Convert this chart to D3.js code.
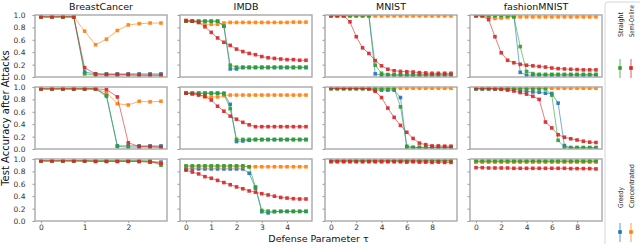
<!DOCTYPE html>
<html lang="en">
<head>
<meta charset="utf-8">
<title>Test accuracy after attacks</title>
<style>
  body { margin: 0; background: #fff; }
  text { font-family: "DejaVu Sans", sans-serif; }
  .tick line { stroke: #999; }
  .tick text { fill: #333; font-size: 7.5px; }
  .frame { fill: none; stroke: #a8a8a8; stroke-width: 1.4px; }
</style>
</head>
<body>
<svg id="chart" width="640" height="244"></svg>
<script src="https://cdn.jsdelivr.net/npm/d3@7"></script>
<script>
// ---- data ----
const datasets = ["BreastCancer", "IMDB", "MNIST", "fashionMNIST"];
const methods = ["Greedy", "Concentrated", "Straight", "Semi-Online"];
const methodColors = ["#1f77b4", "#ff7f0e", "#2ca02c", "#d62728"];

const xBreast = [0, 0.25, 0.5, 0.75, 1, 1.25, 1.5, 1.75, 2, 2.25, 2.5, 2.75];
const xImdb = [0, 0.25, 0.5, 0.75, 1, 1.25, 1.5, 1.75, 2, 2.25, 2.5, 2.75, 3, 3.25, 3.5, 3.75, 4, 4.25, 4.5, 4.75];
const xMnist = [0, 0.5, 1, 1.5, 2, 2.5, 3, 3.5, 4, 4.5, 5, 5.5, 6, 6.5, 7, 7.5, 8, 8.5, 9, 9.5];

const xTicksBreast = [0, 1, 2];
const xTicksImdb = [0, 1, 2, 3, 4];
const xTicksMnist = [0, 2, 4, 6, 8];
const yTicks = [0, 0.2, 0.4, 0.6, 0.8, 1.0];

// one list per row (top, middle, bottom)
const breastGreedy = [
  [0.97, 0.97, 0.97, 0.97, 0.08, 0.05, 0.05, 0.05, 0.05, 0.05, 0.05, 0.05],
  [0.97, 0.97, 0.97, 0.97, 0.97, 0.97, 0.87, 0.05, 0.05, 0.05, 0.05, 0.05],
  [0.97, 0.97, 0.97, 0.97, 0.97, 0.97, 0.97, 0.97, 0.97, 0.97, 0.96, 0.95]];
const breastConcentrated = [
  [0.97, 0.97, 0.97, 0.97, 0.74, 0.52, 0.61, 0.75, 0.84, 0.86, 0.87, 0.87],
  [0.97, 0.97, 0.97, 0.97, 0.97, 0.97, 0.91, 0.73, 0.71, 0.77, 0.76, 0.77],
  [0.97, 0.97, 0.97, 0.97, 0.97, 0.97, 0.97, 0.97, 0.97, 0.96, 0.95, 0.94]];
const breastStraight = [
  [0.97, 0.97, 0.97, 0.97, 0.05, 0.03, 0.03, 0.03, 0.03, 0.03, 0.03, 0.03],
  [0.97, 0.97, 0.97, 0.97, 0.97, 0.97, 0.85, 0.04, 0.03, 0.03, 0.03, 0.03],
  [0.97, 0.97, 0.97, 0.97, 0.97, 0.97, 0.97, 0.97, 0.97, 0.97, 0.97, 0.90]];
const breastSemi = [
  [0.97, 0.97, 0.97, 0.97, 0.15, 0.05, 0.04, 0.04, 0.04, 0.03, 0.03, 0.03],
  [0.97, 0.97, 0.97, 0.97, 0.97, 0.97, 0.96, 0.84, 0.10, 0.04, 0.04, 0.03],
  [0.97, 0.97, 0.97, 0.97, 0.97, 0.96, 0.96, 0.96, 0.96, 0.96, 0.95, 0.93]];

const imdbGreedy = [
  [0.90, 0.90, 0.90, 0.90, 0.90, 0.90, 0.82, 0.13, 0.13, 0.15, 0.15, 0.15, 0.15, 0.15, 0.15, 0.15, 0.15, 0.15, 0.15, 0.15],
  [0.90, 0.90, 0.90, 0.90, 0.90, 0.90, 0.90, 0.72, 0.12, 0.13, 0.14, 0.15, 0.15, 0.15, 0.15, 0.15, 0.15, 0.15, 0.15, 0.15],
  [0.84, 0.84, 0.84, 0.84, 0.84, 0.84, 0.84, 0.84, 0.84, 0.84, 0.77, 0.53, 0.15, 0.13, 0.15, 0.155, 0.155, 0.155, 0.155, 0.155]];
const imdbConcentrated = [
  [0.91, 0.90, 0.88, 0.85, 0.85, 0.85, 0.87, 0.88, 0.88, 0.88, 0.88, 0.88, 0.88, 0.88, 0.88, 0.88, 0.88, 0.885, 0.885, 0.885],
  [0.90, 0.89, 0.88, 0.84, 0.84, 0.84, 0.86, 0.87, 0.87, 0.87, 0.87, 0.87, 0.87, 0.87, 0.87, 0.87, 0.87, 0.87, 0.87, 0.87],
  [0.875, 0.875, 0.875, 0.875, 0.875, 0.875, 0.875, 0.875, 0.875, 0.875, 0.875, 0.875, 0.875, 0.875, 0.875, 0.875, 0.875, 0.875, 0.875, 0.875]];
const imdbStraight = [
  [0.90, 0.90, 0.90, 0.90, 0.90, 0.90, 0.82, 0.19, 0.16, 0.16, 0.16, 0.16, 0.16, 0.16, 0.16, 0.16, 0.16, 0.16, 0.16, 0.16],
  [0.90, 0.90, 0.90, 0.90, 0.90, 0.90, 0.89, 0.65, 0.155, 0.155, 0.155, 0.155, 0.155, 0.155, 0.155, 0.155, 0.155, 0.155, 0.155, 0.155],
  [0.89, 0.89, 0.89, 0.89, 0.89, 0.89, 0.89, 0.89, 0.89, 0.89, 0.875, 0.55, 0.17, 0.16, 0.155, 0.155, 0.155, 0.155, 0.155, 0.155]];
const imdbSemi = [
  [0.91, 0.90, 0.88, 0.81, 0.72, 0.63, 0.56, 0.51, 0.45, 0.41, 0.38, 0.36, 0.33, 0.31, 0.30, 0.29, 0.28, 0.28, 0.27, 0.27],
  [0.90, 0.89, 0.87, 0.85, 0.79, 0.69, 0.61, 0.53, 0.48, 0.43, 0.39, 0.36, 0.36, 0.36, 0.36, 0.36, 0.36, 0.36, 0.36, 0.36],
  [0.82, 0.79, 0.76, 0.715, 0.69, 0.655, 0.62, 0.585, 0.55, 0.52, 0.485, 0.465, 0.44, 0.42, 0.40, 0.38, 0.37, 0.36, 0.355, 0.355]];

const mnistGreedy = [
  [0.99, 0.99, 0.99, 0.99, 0.99, 0.99, 0.99, 0.05, 0.03, 0.03, 0.03, 0.03, 0.03, 0.03, 0.03, 0.03, 0.03, 0.03, 0.03, 0.03],
  [0.98, 0.98, 0.98, 0.98, 0.98, 0.98, 0.98, 0.95, 0.95, 0.95, 0.95, 0.83, 0.03, 0.025, 0.025, 0.025, 0.025, 0.025, 0.025, 0.025],
  [0.97, 0.97, 0.97, 0.97, 0.97, 0.97, 0.97, 0.97, 0.97, 0.97, 0.97, 0.97, 0.97, 0.97, 0.97, 0.97, 0.97, 0.97, 0.97, 0.97]];
const mnistConcentrated = [
  [0.985, 0.985, 0.985, 0.985, 0.985, 0.985, 0.985, 0.985, 0.985, 0.985, 0.985, 0.985, 0.985, 0.985, 0.985, 0.985, 0.985, 0.985, 0.985, 0.985],
  [0.98, 0.98, 0.98, 0.98, 0.98, 0.98, 0.98, 0.98, 0.98, 0.98, 0.98, 0.98, 0.98, 0.98, 0.98, 0.98, 0.98, 0.98, 0.98, 0.98],
  [0.97, 0.97, 0.97, 0.97, 0.97, 0.97, 0.97, 0.97, 0.97, 0.97, 0.97, 0.97, 0.97, 0.97, 0.97, 0.97, 0.97, 0.97, 0.97, 0.97]];
const mnistStraight = [
  [0.99, 0.99, 0.99, 0.99, 0.99, 0.99, 0.99, 0.19, 0.06, 0.04, 0.035, 0.035, 0.035, 0.035, 0.035, 0.035, 0.035, 0.035, 0.035, 0.035],
  [0.97, 0.97, 0.97, 0.97, 0.97, 0.97, 0.97, 0.97, 0.97, 0.97, 0.97, 0.68, 0.045, 0.025, 0.025, 0.025, 0.025, 0.025, 0.025, 0.025],
  [0.98, 0.98, 0.98, 0.98, 0.98, 0.98, 0.98, 0.98, 0.98, 0.98, 0.98, 0.98, 0.98, 0.98, 0.98, 0.98, 0.98, 0.98, 0.98, 0.98]];
const mnistSemi = [
  [0.99, 0.99, 0.99, 0.89, 0.65, 0.47, 0.38, 0.265, 0.18, 0.125, 0.10, 0.09, 0.085, 0.08, 0.07, 0.065, 0.06, 0.06, 0.06, 0.06],
  [0.98, 0.98, 0.98, 0.98, 0.98, 0.98, 0.97, 0.93, 0.83, 0.66, 0.51, 0.38, 0.27, 0.17, 0.095, 0.07, 0.05, 0.05, 0.045, 0.045],
  [0.955, 0.955, 0.955, 0.955, 0.955, 0.955, 0.955, 0.955, 0.955, 0.955, 0.955, 0.955, 0.95, 0.955, 0.95, 0.95, 0.945, 0.95, 0.945, 0.945]];

const fashionGreedy = [
  [0.99, 0.99, 0.99, 0.99, 0.99, 0.99, 0.99, 0.075, 0.03, 0.03, 0.03, 0.03, 0.03, 0.03, 0.03, 0.03, 0.03, 0.03, 0.03, 0.03],
  [0.97, 0.97, 0.97, 0.97, 0.97, 0.97, 0.97, 0.94, 0.93, 0.92, 0.915, 0.90, 0.895, 0.74, 0.055, 0.015, 0.015, 0.015, 0.015, 0.015],
  [0.96, 0.96, 0.96, 0.96, 0.96, 0.96, 0.96, 0.96, 0.96, 0.96, 0.96, 0.96, 0.96, 0.96, 0.96, 0.96, 0.96, 0.96, 0.96, 0.96]];
const fashionConcentrated = [
  [0.99, 0.98, 0.965, 0.945, 0.95, 0.96, 0.97, 0.97, 0.97, 0.97, 0.97, 0.97, 0.97, 0.97, 0.97, 0.97, 0.97, 0.97, 0.97, 0.97],
  [0.98, 0.98, 0.98, 0.98, 0.98, 0.98, 0.98, 0.98, 0.98, 0.98, 0.98, 0.98, 0.98, 0.98, 0.98, 0.98, 0.98, 0.98, 0.98, 0.98],
  [0.95, 0.95, 0.95, 0.95, 0.95, 0.95, 0.95, 0.95, 0.95, 0.95, 0.95, 0.95, 0.95, 0.95, 0.95, 0.95, 0.95, 0.95, 0.95, 0.95]];
const fashionStraight = [
  [0.99, 0.99, 0.99, 0.99, 0.99, 0.99, 0.97, 0.49, 0.09, 0.055, 0.043, 0.043, 0.043, 0.043, 0.043, 0.043, 0.043, 0.043, 0.043, 0.043],
  [0.97, 0.97, 0.97, 0.97, 0.97, 0.97, 0.97, 0.97, 0.97, 0.97, 0.97, 0.97, 0.87, 0.14, 0.03, 0.025, 0.025, 0.025, 0.025, 0.025],
  [0.97, 0.97, 0.97, 0.97, 0.97, 0.97, 0.97, 0.97, 0.97, 0.97, 0.97, 0.97, 0.97, 0.97, 0.97, 0.97, 0.97, 0.97, 0.97, 0.97]];
const fashionSemi = [
  [0.99, 0.99, 0.925, 0.65, 0.39, 0.27, 0.23, 0.205, 0.19, 0.18, 0.17, 0.16, 0.145, 0.135, 0.13, 0.125, 0.12, 0.115, 0.115, 0.115],
  [0.98, 0.98, 0.98, 0.97, 0.965, 0.95, 0.935, 0.91, 0.885, 0.85, 0.80, 0.435, 0.34, 0.23, 0.19, 0.165, 0.145, 0.125, 0.11, 0.105],
  [0.86, 0.86, 0.855, 0.855, 0.855, 0.855, 0.85, 0.85, 0.85, 0.85, 0.85, 0.85, 0.85, 0.85, 0.85, 0.845, 0.845, 0.845, 0.845, 0.84]];

// ---- layout ----
const colLeft = [35, 180, 325, 470],
    panelW = 132,
    rowTop = [15, 87, 159],
    panelH = 62;

const panels = [
  { xs: xBreast, ticks: xTicksBreast, series: [breastGreedy, breastConcentrated, breastStraight, breastSemi] },
  { xs: xImdb, ticks: xTicksImdb, series: [imdbGreedy, imdbConcentrated, imdbStraight, imdbSemi] },
  { xs: xMnist, ticks: xTicksMnist, series: [mnistGreedy, mnistConcentrated, mnistStraight, mnistSemi] },
  { xs: xMnist, ticks: xTicksMnist, series: [fashionGreedy, fashionConcentrated, fashionStraight, fashionSemi] }
];

const svg = d3.select('#chart');
const defs = svg.append('defs');

panels.forEach((p, c) => {
  // matplotlib-like 5% margin on x
  const lo = d3.min(p.xs), hi = d3.max(p.xs), pad = (hi - lo) * 0.05;
  const x = d3.scaleLinear().domain([lo - pad, hi + pad]).range([0, panelW]);

  // column title
  svg.append('text')
    .attr('x', colLeft[c] + panelW / 2)
    .attr('y', 10)
    .attr('text-anchor', 'middle')
    .attr('font-size', 9.5)
    .attr('fill', '#111')
    .text(datasets[c]);

  rowTop.forEach((top, r) => {
    const y = d3.scaleLinear().domain([0, 1]).range([panelH, 0]);
    const g = svg.append('g').attr('transform', `translate(${colLeft[c]},${top})`);
    const clipId = `clip-${c}-${r}`;
    defs.append('clipPath').attr('id', clipId)
      .append('rect').attr('width', panelW).attr('height', panelH);

    // y axis (labels only in first column)
    const yAxis = d3.axisLeft(y).tickValues(yTicks).tickSize(2.5).tickPadding(7)
      .tickFormat(c === 0 ? d3.format('.1f') : '');
    g.append('g').attr('class', 'y axis').call(yAxis)
      .call(a => a.select('.domain').remove());

    // x axis only on bottom row
    if (r === 2) {
      g.append('g').attr('class', 'x axis')
        .attr('transform', `translate(0,${panelH})`)
        .call(d3.axisBottom(x).tickValues(p.ticks).tickSize(2).tickPadding(1.5).tickFormat(d3.format('d')))
        .call(a => a.select('.domain').remove());
    }

    const plot = g.append('g').attr('clip-path', `url(#${clipId})`);
    const line = d3.line().x((d, i) => x(p.xs[i])).y(d => y(d));

    p.series.forEach((s, m) => {
      const vals = s[r];
      plot.append('path')
        .attr('d', line(vals))
        .attr('fill', 'none')
        .attr('stroke', methodColors[m])
        .attr('stroke-opacity', 0.6)
        .attr('stroke-width', 1);
      plot.selectAll(null)
        .data(vals)
        .join('rect')
          .attr('x', (d, i) => x(p.xs[i]) - 1.8)
          .attr('y', d => y(d) - 1.8)
          .attr('width', 3.6)
          .attr('height', 3.6)
          .attr('fill', methodColors[m])
          .attr('fill-opacity', 0.9);
    });

    g.append('rect').attr('class', 'frame')
      .attr('width', panelW).attr('height', panelH);
  });
});

// axis labels
svg.append('text')
  .attr('x', colLeft[0] + (colLeft[3] + panelW - colLeft[0]) / 2)
  .attr('y', 242)
  .attr('text-anchor', 'middle')
  .attr('font-size', 9.5)
  .attr('fill', '#111')
  .text('Defense Parameter τ');

svg.append('text')
  .attr('transform', `translate(9,${rowTop[0] + (rowTop[2] + panelH - rowTop[0]) / 2}) rotate(-90)`)
  .attr('text-anchor', 'middle')
  .attr('font-size', 10)
  .attr('fill', '#111')
  .text('Test Accuracy after Attacks');

// legend (rotated, partly cut by the figure edge)
const legend = svg.append('g');
legend.append('rect')
  .attr('x', 605).attr('y', 2)
  .attr('width', 60).attr('height', 260)
  .attr('rx', 3)
  .attr('fill', '#fff')
  .attr('stroke', '#d6d6d6')
  .attr('stroke-width', 1);

const legendItems = [
  { m: 2, x: 620, textY: 37, markY: 68, len: 25 },
  { m: 3, x: 631, textY: 37, markY: 68, len: 32 },
  { m: 0, x: 620, textY: 208, markY: 232, len: 21 },
  { m: 1, x: 631, textY: 208, markY: 232, len: 44 }
];
legendItems.forEach(it => {
  const col = methodColors[it.m];
  legend.append('line')
    .attr('x1', it.x).attr('x2', it.x)
    .attr('y1', it.markY - 9).attr('y2', it.markY + 10)
    .attr('stroke', col).attr('stroke-opacity', 0.5).attr('stroke-width', 1.5);
  legend.append('rect')
    .attr('x', it.x - 1.8).attr('y', it.markY - 1.8)
    .attr('width', 3.6).attr('height', 3.6)
    .attr('fill', col);
  const t = legend.append('text')
    .attr('font-size', 6.8)
    .attr('fill', '#222')
    .text(methods[it.m]);
  // squeeze along the reading direction to the measured length
  const sx = it.len / t.node().getComputedTextLength();
  t.attr('transform', `translate(${it.x + 2.5},${it.textY}) rotate(-90) scale(${sx},1)`);
});
</script>
</body>
</html>
